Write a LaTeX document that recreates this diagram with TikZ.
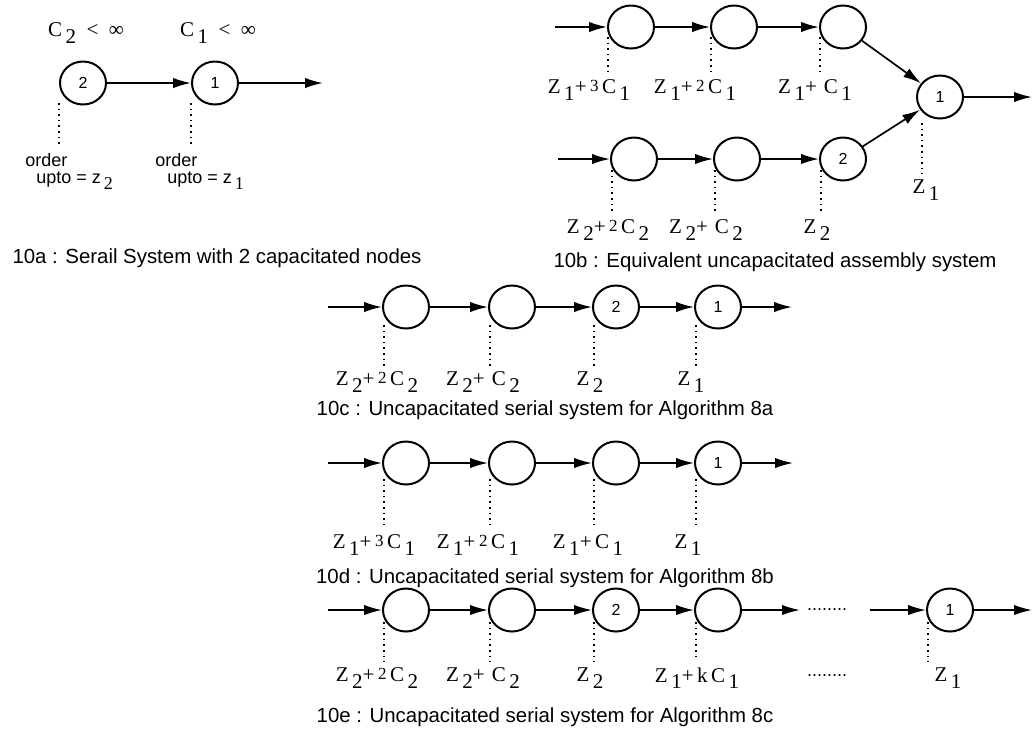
\documentclass[tikz,border=0pt]{standalone}
\usepackage{fontspec}
\newfontfamily\sansf{Liberation Sans}
\newfontfamily\serf{Liberation Serif}
\usetikzlibrary{arrows.meta, positioning, shapes.geometric, calc}
\tikzset{
    stn/.style   ={draw, ellipse, line width=1pt, minimum width=23pt,
                   minimum height=21.5pt, inner sep=0pt,
                   font=\sansf\fontsize{8}{8}\selectfont},
    flow/.style  ={-{Latex[length=9pt, width=5.2pt]}, line width=0.85pt},
    tie/.style   ={dotted, line width=0.8pt, shorten >=3pt},
    zl/.style    ={font=\serf\fontsize{10.5}{10.5}\selectfont, inner sep=0pt},
    ord/.style   ={font=\sansf\fontsize{9}{8.5}\selectfont, align=left, inner sep=0pt},
    figcap/.style={font=\sansf\fontsize{10.2}{10.2}\selectfont, inner sep=0pt}
}
\newcommand{\lo}[1]{\raisebox{-0.65ex}{#1}}
\newcommand{\zs}[1]{\raisebox{0.2ex}{\fontsize{8.5}{8.5}\selectfont #1}}

\begin{document}
\begin{tikzpicture}[x=0.5pt, y=-0.5pt]
  \useasboundingbox (0,0) rectangle (1036,736);

  % 10a : serial system, two capacitated nodes
  \node[stn] (a2) at (83,83) {2};
  \node[stn] (a1) at (215,83) {1};
  \coordinate (aout) at (323,83);
  \node[zl] (ca2) at (86,33) {C\lo{\,2}\enspace<\enspace∞};
  \node[zl] (ca1) at (218,33) {C\lo{\,1}\enspace<\enspace∞};
  \node[ord, anchor=north west] (oa2) at (25,153) {order\\\hspace*{5.5pt}upto = z\lo{\,\serf 2}};
  \node[ord, anchor=north west] (oa1) at (155,153) {order\\\hspace*{6pt}upto = z\lo{\,\serf 1}};
  \draw[flow] (a2) -- (a1);
  \draw[flow] (a1) -- (aout);
  \draw[tie] (a2.west) ++(0,20) coordinate (t) -- (t |- oa2.north);
  \draw[tie] (a1.west) ++(0,20) coordinate (t) -- (t |- oa1.north);
  \node[figcap] (capa) at (217,258) {10a : Serail System with 2 capacitated nodes};

  % 10b : assembly system
  \coordinate (btin) at (555,27);
  \node[stn] (bt1) at (631,27) {};
  \node[stn] (bt2) at (734,27) {};
  \node[stn] (bt3) at (843,27) {};
  \coordinate (bbin) at (558,159);
  \node[stn] (bb1) at (634,159) {};
  \node[stn] (bb2) at (737,159) {};
  \node[stn] (bb3) at (843,159) {2};
  \node[stn] (b1) at (940,97) {1};
  \coordinate (bout) at (1032,97);
  \node[zl] (lbt1) at (589,90) {Z\lo{\,1}+\,\zs{3}\,C\lo{\,1}};
  \node[zl] (lbt2) at (695,90) {Z\lo{\,1}+\,\zs{2}\,C\lo{\,1}};
  \node[zl] (lbt3) at (815,90) {Z\lo{\,1}+\,\,C\lo{\,1}};
  \node[zl] (lb1) at (926,190) {Z\lo{\,1}};
  \node[zl] (lbb1) at (608,230) {Z\lo{\,2}+\,\zs{2}\,C\lo{\,2}};
  \node[zl] (lbb2) at (706,230) {Z\lo{\,2}+\,\,C\lo{\,2}};
  \node[zl] (lbb3) at (817,230) {Z\lo{\,2}};
  \draw[flow] (btin) -- (bt1);
  \draw[flow] (bt1) -- (bt2);
  \draw[flow] (bt2) -- (bt3);
  \draw[flow] (bt3) -- (b1);
  \draw[flow] (bbin) -- (bb1);
  \draw[flow] (bb1) -- (bb2);
  \draw[flow] (bb2) -- (bb3);
  \draw[flow] (bb3) -- (b1);
  \draw[flow] (b1) -- (bout);
  \foreach \n/\l in {bt1/lbt1, bt2/lbt2, bt3/lbt3}
    \draw[tie] (\n.west) ++(1,10) coordinate (t) -- (t |- \l.north);
  \foreach \n/\l in {bb1/lbb1, bb2/lbb2, bb3/lbb3}
    \draw[tie] (\n.west) ++(2,11) coordinate (t) -- (t |- \l.north);
  \draw[tie] (b1.west) ++(6,26) coordinate (t) -- (t |- lb1.north);
  \node[figcap] (capb) at (775,262) {10b : Equivalent uncapacitated assembly system};

  % 10c : serial, Algorithm 8a
  \coordinate (cin) at (328,307);
  \node[stn] (c1) at (406,307) {};
  \node[stn] (c2) at (512,307) {};
  \node[stn] (c3) at (616,307) {2};
  \node[stn] (c4) at (718,307) {1};
  \coordinate (cout) at (792,307);
  \node[zl] (lc1) at (377,382) {Z\lo{\,2}+\,\zs{2}\,C\lo{\,2}};
  \node[zl] (lc2) at (483,382) {Z\lo{\,2}+\,\,C\lo{\,2}};
  \node[zl] (lc3) at (590,382) {Z\lo{\,2}};
  \node[zl] (lc4) at (691,382) {Z\lo{\,1}};
  \draw[flow] (cin) -- (c1);
  \foreach \a/\b in {c1/c2, c2/c3, c3/c4, c4/cout}
    \draw[flow] (\a) -- (\b);
  \foreach \n/\l in {c1/lc1, c2/lc2, c3/lc3, c4/lc4}
    \draw[tie] (\n.west) ++(2,18) coordinate (t) -- (t |- \l.north);
  \node[figcap] (capc) at (545,410) {10c : Uncapacitated serial system for Algorithm 8a};

  % 10d : serial, Algorithm 8b
  \coordinate (din) at (328,463);
  \node[stn] (d1) at (406,463) {};
  \node[stn] (d2) at (512,463) {};
  \node[stn] (d3) at (616,463) {};
  \node[stn] (d4) at (718,463) {1};
  \coordinate (dout) at (793,463);
  \node[zl] (ld1) at (374,545) {Z\lo{\,1}+\,\zs{3}\,C\lo{\,1}};
  \node[zl] (ld2) at (478,545) {Z\lo{\,1}+\,\zs{2}\,C\lo{\,1}};
  \node[zl] (ld3) at (588,545) {Z\lo{\,1}+\,C\lo{\,1}};
  \node[zl] (ld4) at (688,545) {Z\lo{\,1}};
  \draw[flow] (din) -- (d1);
  \foreach \a/\b in {d1/d2, d2/d3, d3/d4, d4/dout}
    \draw[flow] (\a) -- (\b);
  \foreach \n/\l in {d1/ld1, d2/ld2, d3/ld3, d4/ld4}
    \draw[tie] (\n.west) ++(2,16) coordinate (t) -- (t |- \l.north);
  \node[figcap] (capd) at (545,578) {10d : Uncapacitated serial system for Algorithm 8b};

  % 10e : serial, Algorithm 8c
  \coordinate (ein) at (328,610);
  \node[stn] (e1) at (406,610) {};
  \node[stn] (e2) at (512,610) {};
  \node[stn] (e3) at (616,610) {2};
  \node[stn] (e4) at (718,610) {};
  \coordinate (eout) at (800,610);
  \node[ord] (edots) at (827,610) {........};
  \coordinate (ere) at (870,610);
  \node[stn] (e5) at (950,610) {1};
  \coordinate (eend) at (1032,610);
  \node[zl] (le1) at (377,678) {Z\lo{\,2}+\,\zs{2}\,C\lo{\,2}};
  \node[zl] (le2) at (483,678) {Z\lo{\,2}+\,\,C\lo{\,2}};
  \node[zl] (le3) at (590,678) {Z\lo{\,2}};
  \node[zl] (le4) at (697,678) {Z\lo{\,1}+\,k\,C\lo{\,1}};
  \node[ord] (ldots) at (827,676) {........};
  \node[zl] (le5) at (948,678) {Z\lo{\,1}};
  \draw[flow] (ein) -- (e1);
  \foreach \a/\b in {e1/e2, e2/e3, e3/e4, e4/eout, ere/e5, e5/eend}
    \draw[flow] (\a) -- (\b);
  \foreach \n/\l in {e1/le1, e2/le2, e3/le3, e4/le4, e5/le5}
    \draw[tie] (\n.west) ++(2,12) coordinate (t) -- (t |- \l.north);
  \node[figcap] (cape) at (545,717) {10e : Uncapacitated serial system for Algorithm 8c};
\end{tikzpicture}
\end{document}
